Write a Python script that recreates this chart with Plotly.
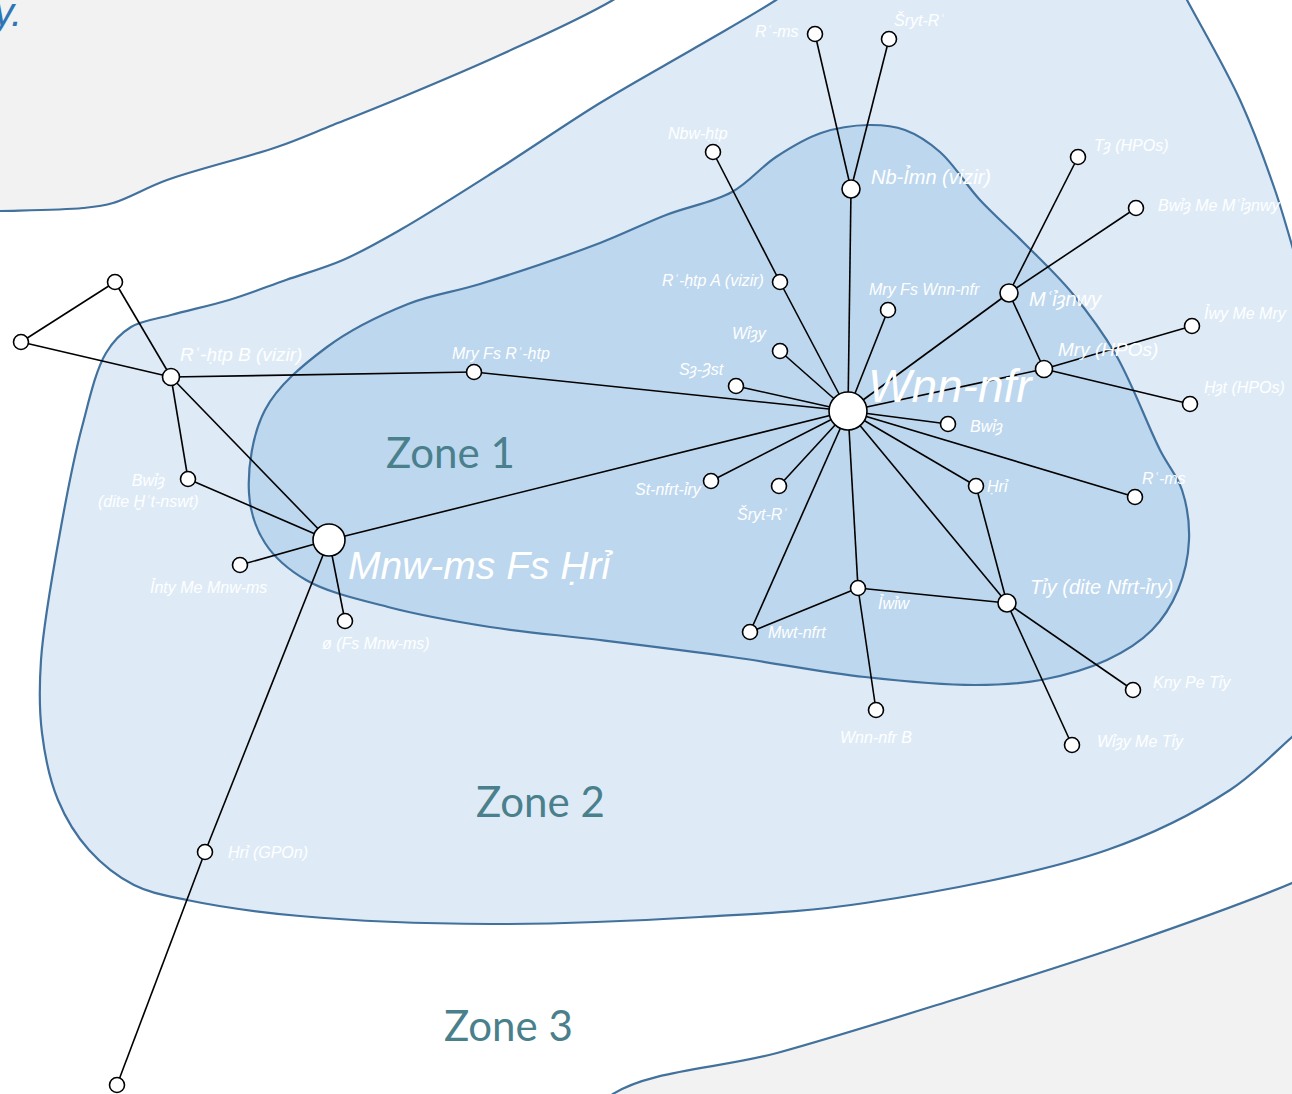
import plotly.graph_objects as go

# ---------------- data ----------------
node_ids = ["Wnn-nfr", "Nb-Imn", "Rms1", "Sryt1", "Nbw-htp", "Rhtp-A", "Mry-Fs-Wnn", "Wiay",
            "Sa-Ast", "Mianwy", "Ta", "Bwia-Me-Mianwy", "Mry-HPOs", "Iwy-Me-Mry", "Hat-HPOs",
            "Bwia", "Rms2", "Hri", "Tiy", "Iwiw", "Mwt-nfrt", "Wnn-nfr-B", "Kny-Pe-Tiy",
            "Wiay-Me-Tiy", "St-nfrt-iry", "Sryt2", "Mry-Fs-Rhtp", "Rhtp-B", "NA", "NB",
            "Bwia-dite", "Mnw-ms", "Inty", "o-Fs", "Hri-GPOn", "NC"]
node_x = [848, 851, 815, 889, 713, 780, 888, 780,
          736, 1009, 1078, 1136, 1044, 1192, 1190,
          948, 1135, 976, 1007, 858, 750, 876, 1133,
          1072, 711, 779, 474, 171, 115, 21,
          188, 329, 240, 345, 205, 117]
node_y = [411, 189, 34, 39, 152, 282, 310, 351,
          386, 293, 157, 208, 369, 326, 404,
          424, 497, 486, 603, 588, 632, 710, 690,
          745, 481, 486, 372, 377, 282, 342,
          479, 540, 565, 621, 852, 1085]

edges = [("Wnn-nfr", "Nb-Imn"), ("Nb-Imn", "Rms1"), ("Nb-Imn", "Sryt1"),
         ("Nbw-htp", "Rhtp-A"), ("Rhtp-A", "Wnn-nfr"), ("Wnn-nfr", "Mry-Fs-Wnn"),
         ("Wnn-nfr", "Wiay"), ("Wnn-nfr", "Sa-Ast"), ("Wnn-nfr", "Mianwy"),
         ("Mianwy", "Ta"), ("Mianwy", "Bwia-Me-Mianwy"), ("Mianwy", "Mry-HPOs"),
         ("Wnn-nfr", "Mry-HPOs"), ("Mry-HPOs", "Iwy-Me-Mry"), ("Mry-HPOs", "Hat-HPOs"),
         ("Wnn-nfr", "Bwia"), ("Wnn-nfr", "Rms2"), ("Wnn-nfr", "Hri"), ("Wnn-nfr", "Tiy"),
         ("Wnn-nfr", "Iwiw"), ("Wnn-nfr", "Mwt-nfrt"), ("Wnn-nfr", "St-nfrt-iry"),
         ("Wnn-nfr", "Sryt2"), ("Wnn-nfr", "Mry-Fs-Rhtp"), ("Wnn-nfr", "Mnw-ms"),
         ("Hri", "Tiy"), ("Tiy", "Iwiw"), ("Iwiw", "Mwt-nfrt"), ("Iwiw", "Wnn-nfr-B"),
         ("Tiy", "Kny-Pe-Tiy"), ("Tiy", "Wiay-Me-Tiy"), ("Mry-Fs-Rhtp", "Rhtp-B"),
         ("Rhtp-B", "NA"), ("Rhtp-B", "NB"), ("NA", "NB"), ("Rhtp-B", "Bwia-dite"),
         ("Rhtp-B", "Mnw-ms"), ("Bwia-dite", "Mnw-ms"), ("Mnw-ms", "Inty"),
         ("Mnw-ms", "o-Fs"), ("Mnw-ms", "Hri-GPOn"), ("Hri-GPOn", "NC")]

label_nodes = ["Rms1", "Sryt1", "Nbw-htp", "Nb-Imn", "Ta", "Bwia-Me-Mianwy", "Rhtp-A",
               "Mry-Fs-Wnn", "Mianwy", "Iwy-Me-Mry", "Wiay", "Mry-HPOs", "Sa-Ast", "Wnn-nfr",
               "Hat-HPOs", "Bwia", "Rms2", "Hri", "St-nfrt-iry", "Sryt2", "Tiy", "Iwiw",
               "Mwt-nfrt", "Kny-Pe-Tiy", "Wnn-nfr-B", "Wiay-Me-Tiy", "Mry-Fs-Rhtp", "Rhtp-B",
               "Bwia-dite", "Mnw-ms", "Inty", "o-Fs", "Hri-GPOn"]
label_texts = ["Rʿ-ms", "Šryt-Rʿ", "Nbw-ḥtp", "Nb-Ỉmn (vizir)", "Tȝ (HPOs)", "Bwỉȝ Me Mʿỉȝnwy",
               "Rʿ-ḥtp A (vizir)", "Mry Fs Wnn-nfr", "Mʿỉȝnwy", "Ỉwy Me Mry", "Wỉȝy", "Mry (HPOs)",
               "Sȝ-Ȝst", "Wnn-nfr", "Ḥȝt (HPOs)", "Bwỉȝ", "Rʿ-ms", "Ḥrỉ", "St-nfrt-ỉry", "Šryt-Rʿ",
               "Tỉy (dite Nfrt-ỉry)", "Ỉwỉw", "Mwt-nfrt", "Ḳny Pe Tỉy", "Wnn-nfr B", "Wỉȝy Me Tỉy",
               "Mry Fs Rʿ-ḥtp", "Rʿ-ḥtp B (vizir)", "Bwỉȝ<br>(dite Ḫʿt-nswt)", "Mnw-ms Fs Ḥrỉ",
               "Ỉnty Me Mnw-ms", "ø (Fs Mnw-ms)", "Ḥrỉ (GPOn)"]

zone_names = ["Zone 1", "Zone 2", "Zone 3"]

# ---------------- layout / style ----------------
big_nodes = {"Wnn-nfr": 38, "Mnw-ms": 32, "Nb-Imn": 18, "Mianwy": 18, "Tiy": 18,
             "Mry-HPOs": 17, "Rhtp-B": 17}
# label placement: (x, y, xanchor, font size)
label_pos = {
    "Rms1": (801, 31, "right", 16), "Sryt1": (892, 20, "left", 16),
    "Nbw-htp": (698, 133, "center", 16), "Nb-Imn": (869, 176, "left", 20),
    "Ta": (1092, 146, "left", 16), "Bwia-Me-Mianwy": (1156, 206, "left", 16),
    "Rhtp-A": (766, 280, "right", 16), "Mry-Fs-Wnn": (867, 289, "left", 16),
    "Mianwy": (1027, 299, "left", 20), "Iwy-Me-Mry": (1202, 313, "left", 16),
    "Wiay": (769, 334, "right", 16), "Mry-HPOs": (1056, 349, "left", 19),
    "Sa-Ast": (726, 370, "right", 16), "Wnn-nfr": (866, 386, "left", 46),
    "Hat-HPOs": (1202, 388, "left", 16), "Bwia": (968, 427, "left", 16),
    "Rms2": (1140, 478, "left", 16), "Hri": (985, 486, "left", 16),
    "St-nfrt-iry": (704, 489, "right", 16), "Sryt2": (762, 514, "center", 16),
    "Tiy": (1028, 587, "left", 20), "Iwiw": (876, 603, "left", 16),
    "Mwt-nfrt": (766, 632, "left", 16), "Kny-Pe-Tiy": (1151, 682, "left", 16),
    "Wnn-nfr-B": (876, 737, "center", 16), "Wiay-Me-Tiy": (1095, 742, "left", 16),
    "Mry-Fs-Rhtp": (501, 353, "center", 16), "Rhtp-B": (178, 354, "left", 19),
    "Bwia-dite": (148, 491, "center", 16), "Mnw-ms": (346, 565, "left", 39),
    "Inty": (208, 587, "center", 16), "o-Fs": (376, 643, "center", 16),
    "Hri-GPOn": (226, 852, "left", 16),
}
zone_label_pos = [(450, 452), (540, 801), (508, 1025)]

# background region outlines (decorative)
grey_top = [(-60, -60), (700, -60), (613, 0), (500, 55), (400, 98), (333, 125), (277, 147),
            (167, 180), (113, 203), (83, 208), (0, 211), (-60, 212), (-60, -60)]
grey_bottom = [(560, 1160), (613, 1094), (777, 1053), (953, 1000), (1130, 943), (1292, 883),
               (1380, 840), (1400, 1160), (560, 1160)]
zone2 = [(1420, 560), (1380, 680), (1320, 712), (1292, 737), (1230, 790), (1107, 850),
         (865, 903), (700, 917), (491, 924), (300, 916), (187, 900), (134, 885), (89, 850),
         (58, 800), (42, 733), (41, 660), (61, 527), (82, 427), (106, 353), (131, 327),
         (171, 315), (229, 300), (286, 280), (343, 260), (400, 230), (500, 168), (600, 103),
         (700, 45), (776, 0), (840, -45), (1000, -80), (1160, -50), (1187, 0), (1240, 100),
         (1275, 190), (1305, 290), (1340, 400), (1390, 470), (1420, 560)]
zone1 = [(1024, 243), (980, 200), (940, 152), (905, 130), (869, 125), (821, 133), (776, 157),
         (732, 192), (666, 215), (600, 243), (480, 284), (408, 304), (327, 347),
         (265, 410), (249, 493), (265, 543), (306, 580), (388, 607), (490, 627), (600, 640),
         (732, 657), (865, 677), (975, 685), (1041, 680), (1107, 660), (1152, 630),
         (1178, 590), (1189, 540), (1182, 490), (1160, 450), (1116, 355), (1072, 293),
         (1024, 243)]

LINE = "#41719c"

fig = go.Figure()

def region(pts, fill):
    fig.add_trace(go.Scatter(
        x=[p[0] for p in pts], y=[p[1] for p in pts], mode="lines", fill="toself",
        fillcolor=fill, line=dict(color=LINE, width=2.2, shape="spline", smoothing=1.0),
        hoverinfo="skip", showlegend=False))

region(grey_top, "#f2f2f2")
region(grey_bottom, "#f2f2f2")
region(zone2, "#deebf7")
region(zone1, "#bdd7ee")

# edges
idx = {n: i for i, n in enumerate(node_ids)}
ex, ey = [], []
for a, b in edges:
    ex += [node_x[idx[a]], node_x[idx[b]], None]
    ey += [node_y[idx[a]], node_y[idx[b]], None]
fig.add_trace(go.Scatter(x=ex, y=ey, mode="lines", line=dict(color="black", width=1.6),
                         hoverinfo="skip", showlegend=False))

# nodes
sizes = [big_nodes.get(n, 15) for n in node_ids]
fig.add_trace(go.Scatter(x=node_x, y=node_y, mode="markers", text=node_ids,
                         marker=dict(size=sizes, color="white", opacity=1,
                                     line=dict(color="black", width=1.6)),
                         hoverinfo="text", showlegend=False))

annotations = []
for n, t in zip(label_nodes, label_texts):
    lx, ly, anc, fs = label_pos[n]
    annotations.append(dict(x=lx, y=ly, xref="x", yref="y", text="<i>" + t + "</i>",
                            showarrow=False, xanchor=anc, yanchor="middle",
                            font=dict(family="Liberation Sans, Arial", size=fs, color="white")))
for name, (zx, zy) in zip(zone_names, zone_label_pos):
    annotations.append(dict(x=zx, y=zy, xref="x", yref="y", text=name, showarrow=False,
                            xanchor="center", yanchor="middle",
                            font=dict(family="Lato, Open Sans", size=42, color="#4a7f8c")))
annotations.append(dict(x=24, y=12, xref="x", yref="y", text="<i>y.</i>", showarrow=False,
                        xanchor="right", yanchor="middle",
                        font=dict(family="Liberation Sans", size=40, color="#2e75b6")))

fig.update_layout(
    width=1292, height=1094, margin=dict(l=0, r=0, t=0, b=0),
    plot_bgcolor="white", paper_bgcolor="white",
    xaxis=dict(range=[0, 1292], visible=False, fixedrange=True),
    yaxis=dict(range=[1094, 0], visible=False, fixedrange=True),
    annotations=annotations, showlegend=False,
)

fig.write_html("out.html", config={"displayModeBar": False},
               post_script="document.body.style.margin='0';document.body.style.overflow='hidden';")
